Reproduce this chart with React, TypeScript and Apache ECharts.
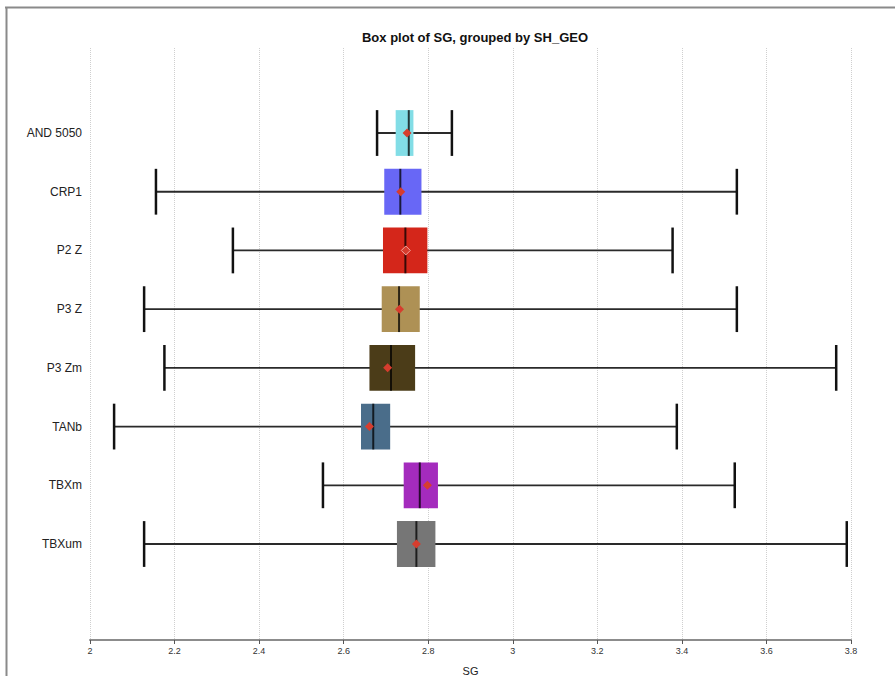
import React, { useEffect, useRef } from "react";
import * as echarts from "echarts";

const categories = ["AND 5050", "CRP1", "P2 Z", "P3 Z", "P3 Zm", "TANb", "TBXm", "TBXum"];
const minVals = [2.679, 2.156, 2.338, 2.128, 2.176, 2.057, 2.551, 2.128];
const q1Vals = [2.723, 2.696, 2.693, 2.690, 2.661, 2.641, 2.742, 2.726];
const medianVals = [2.754, 2.734, 2.746, 2.731, 2.712, 2.670, 2.780, 2.772];
const q3Vals = [2.765, 2.784, 2.798, 2.780, 2.769, 2.710, 2.823, 2.817];
const maxVals = [2.856, 3.530, 3.378, 3.530, 3.765, 3.388, 3.525, 3.790];
const meanVals = [2.750, 2.735, 2.747, 2.732, 2.704, 2.661, 2.798, 2.772];

const boxColors = ["#82dde6", "#6867f6", "#d4261a", "#ae9155", "#4b3c18", "#4a6d8a", "#a42bbd", "#767676"];
const meanStroke = ["none", "none", "#f3a49c", "none", "none", "none", "none", "none"];

export default function App() {
  const ref = useRef<HTMLDivElement>(null);
  useEffect(() => {
    document.body.style.margin = "0";
    if (!ref.current) return;
    const chart = echarts.init(ref.current, null, { renderer: "svg" });
    const data = categories.map((_, i) => [
      i,
      minVals[i],
      q1Vals[i],
      medianVals[i],
      q3Vals[i],
      maxVals[i],
      meanVals[i],
    ]);
    const font = "'Liberation Sans', Arial, Helvetica, sans-serif";
    chart.setOption({
      animation: false,
      textStyle: { fontFamily: font },
      title: {
        text: "Box plot of SG, grouped by SH_GEO",
        left: 470,
        textAlign: "center",
        top: 26,
        textStyle: { fontSize: 13, fontWeight: "bold", color: "#111", fontFamily: font },
      },
      grid: { left: 90, right: 44, top: 48, bottom: 36, containLabel: false, outerBoundsMode: "none" },
      xAxis: {
        type: "value",
        min: 2,
        max: 3.8,
        interval: 0.2,
        name: "SG",
        nameLocation: "middle",
        nameGap: 25,
        nameTextStyle: { fontSize: 11, color: "#222" },
        axisLine: { show: true, onZero: false, lineStyle: { color: "#8c8c8c", width: 2 } },
        axisTick: { show: true, length: 4, lineStyle: { color: "#555", width: 1 } },
        axisLabel: { fontSize: 9, color: "#333", margin: 6 },
        splitLine: { show: true, lineStyle: { type: "dotted", color: "#cfcfcf", width: 1 } },
      },
      yAxis: {
        type: "value",
        inverse: true,
        min: -1.448,
        max: 8.635,
        axisLine: { show: false, onZero: false },
        axisTick: { show: false },
        splitLine: { show: false },
        axisLabel: {
          customValues: [0, 1, 2, 3, 4, 5, 6, 7],
          formatter: (v: number) => categories[Math.round(v)] ?? "",
          fontSize: 12,
          color: "#222",
          margin: 8,
        },
      },
      graphic: [
        { type: "line", shape: { x1: 5, y1: 7.5, x2: 895, y2: 7.5 }, style: { stroke: "#8a8a8a", lineWidth: 2 } },
        { type: "line", shape: { x1: 6.5, y1: 7, x2: 6.5, y2: 676 }, style: { stroke: "#8a8a8a", lineWidth: 2 } },
      ],
      series: [
        {
          type: "custom",
          data,
          encode: { x: [1, 2, 3, 4, 5, 6], y: 0 },
          renderItem: (params: any, api: any) => {
            const i = api.value(0);
            const pMin = api.coord([api.value(1), i]);
            const pQ1 = api.coord([api.value(2), i]);
            const pMed = api.coord([api.value(3), i]);
            const pQ3 = api.coord([api.value(4), i]);
            const pMax = api.coord([api.value(5), i]);
            const pMean = api.coord([api.value(6), i]);
            const h = api.size([0, 1])[1] * 0.78;
            const y = pMin[1];
            const d = 4.5;
            return {
              type: "group",
              children: [
                {
                  type: "line",
                  shape: { x1: pMin[0], y1: y, x2: pMax[0], y2: y },
                  style: { stroke: "#2a2a2a", lineWidth: 1.8 },
                },
                {
                  type: "line",
                  shape: { x1: pMin[0], y1: y - h / 2, x2: pMin[0], y2: y + h / 2 },
                  style: { stroke: "#111", lineWidth: 2.5 },
                },
                {
                  type: "line",
                  shape: { x1: pMax[0], y1: y - h / 2, x2: pMax[0], y2: y + h / 2 },
                  style: { stroke: "#111", lineWidth: 2.5 },
                },
                {
                  type: "rect",
                  shape: { x: pQ1[0], y: y - h / 2, width: pQ3[0] - pQ1[0], height: h },
                  style: { fill: boxColors[i], stroke: "none" },
                },
                {
                  type: "line",
                  shape: { x1: pMed[0], y1: y - h / 2, x2: pMed[0], y2: y + h / 2 },
                  style: { stroke: "rgba(0,0,0,0.75)", lineWidth: 2 },
                },
                {
                  type: "polygon",
                  shape: {
                    points: [
                      [pMean[0], y - d],
                      [pMean[0] + d, y],
                      [pMean[0], y + d],
                      [pMean[0] - d, y],
                    ],
                  },
                  style: { fill: "#d63d2e", stroke: meanStroke[i], lineWidth: 1 },
                },
              ],
            };
          },
        },
      ],
    });
    return () => chart.dispose();
  }, []);
  return <div ref={ref} style={{ width: 895, height: 676 }} />;
}
